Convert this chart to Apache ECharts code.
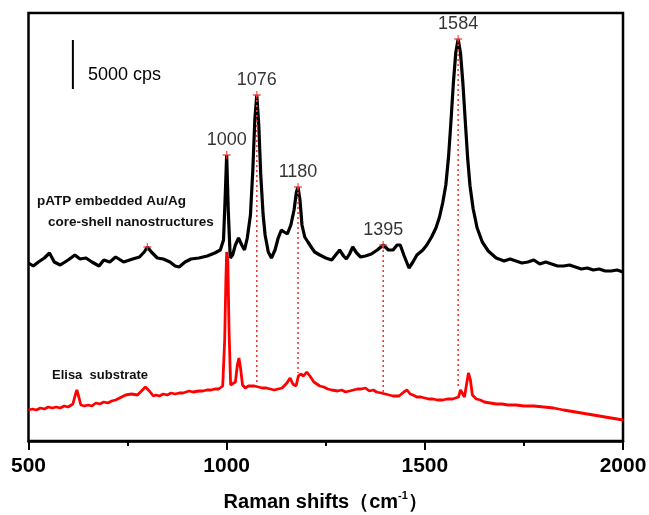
<!DOCTYPE html>
<html>
<head>
<meta charset="utf-8">
<script src="https://cdn.jsdelivr.net/npm/echarts@6/dist/echarts.min.js"></script>
<style>html,body{margin:0;padding:0;background:#fff;}#c{width:649px;height:515px;}</style>
</head>
<body>
<div id="c"></div>
<script>
// Raman shift (cm-1) and offset intensity (a.u.; 49 a.u. = 5000 cps scale bar)
var blackShift = [500,512,525,540,553,565,580,600,617,630,645,660,678,690,705,720,740,763,780,792,800,810,825,840,857,870,880,895,910,930,951,970,984,992,996,1000,1004,1009,1015,1022,1030,1038,1045,1052,1060,1066,1071,1076,1081,1086,1092,1097,1105,1113,1122,1130,1138,1145,1153,1162,1170,1176,1180,1185,1190,1197,1205,1215,1222,1235,1250,1265,1275,1285,1295,1302,1310,1318,1328,1338,1350,1365,1380,1395,1408,1420,1430,1438,1448,1460,1470,1480,1495,1505,1517,1528,1537,1545,1553,1560,1566,1572,1578,1584,1590,1596,1602,1608,1614,1622,1632,1645,1660,1680,1700,1715,1730,1745,1760,1775,1790,1805,1820,1835,1850,1865,1880,1895,1910,1925,1940,1955,1970,1985,2000];
var blackInt   = [178,175,179,183,188,179,176,181,186,182,183,179,175,181,179,184,179,182,184,189,194,189,183,182,179,175,174,179,182,183,185,188,191,201,241,286,231,183,186,196,203,196,191,203,226,271,321,346,316,266,226,206,189,183,191,203,211,209,207,216,231,249,254,241,216,204,199,193,189,186,183,181,186,191,185,182,187,194,188,184,185,187,191,196,191,191,196,196,185,173,179,186,191,196,204,213,224,238,256,285,320,358,388,402,388,358,320,283,255,232,213,199,190,183,180,182,180,178,179,181,177,179,177,175,175,176,174,172,173,171,172,170,170,171,169];

var redShift = [500,510,520,530,540,550,560,570,580,590,600,612,618,622,627,632,641,650,660,670,680,690,700,710,720,730,745,760,775,785,795,805,815,822,830,840,850,860,870,880,890,905,915,920,930,940,950,960,970,980,990,995,998,1000,1003,1006,1010,1015,1022,1027,1031,1035,1040,1047,1055,1060,1070,1080,1090,1100,1110,1120,1130,1140,1152,1160,1167,1175,1181,1187,1194,1202,1210,1220,1235,1245,1255,1265,1280,1290,1300,1310,1320,1330,1340,1350,1360,1370,1378,1390,1400,1410,1420,1435,1447,1455,1463,1470,1480,1490,1500,1510,1520,1532,1545,1557,1570,1585,1590,1595,1600,1605,1610,1615,1620,1630,1640,1650,1665,1680,1695,1710,1730,1750,1775,1800,1825,1850,1865,1880,1895,1910,1925,1940,1955,1970,1985,2000];
var redInt   = [31,32,31,33,32,34,33,34,33,35,34,37,46,51,44,36,35,36,35,38,37,39,38,40,41,43,46,47,46,50,54,50,45,46,45,47,46,48,47,48,48,50,49,49,50,50,51,51,52,52,55,101,161,189,179,111,56,54,59,76,83,73,56,53,55,54,55,54,53,53,52,51,52,53,58,63,57,55,65,67,65,69,65,59,55,54,52,51,50,51,49,50,51,52,52,53,50,51,49,48,47,46,45,45,49,51,47,46,44,44,43,42,42,41,41,42,42,44,51,49,44,56,68,61,46,42,41,39,38,37,37,36,36,35,35,34,33,31,30,29,28,27,26,25,24,23,22,21];

var peakShift  = [1000,1076,1180,1395,1584];
var peakTop    = [286,346,254,196,402];
var peakBottom = [286,59,68,49,53];
var peakLabels = ['1000','1076','1180','1395','1584'];
var extraStarShift = [800];
var extraStarInt   = [194];

var scaleBarShift = 612;
var scaleBarInt   = [401,352];
var scaleBarText  = '5000 cps';

var xTicks = [500,1000,1500,2000];

var FONT = '"Liberation Sans", Arial, sans-serif';

function pairs(xs, ys){ return xs.map(function(x,i){ return [x, ys[i]]; }); }

var series = [];
series.push({
  type:'line', data: pairs(blackShift, blackInt), showSymbol:false, symbol:'none',
  lineStyle:{color:'#000', width:3.2}, z:2, silent:true
});
peakShift.forEach(function(s,i){
  if (peakBottom[i] >= peakTop[i]) return;
  series.push({
    type:'line', data: [[s, peakTop[i]],[s, peakBottom[i]]], symbol:'none',
    lineStyle:{color:'#f23a3a', width:1.6, type:[2,3]}, z:3, silent:true
  });
});
series.push({
  type:'line', data: pairs(redShift, redInt), showSymbol:false, symbol:'none',
  lineStyle:{color:'#ff0000', width:2.8}, z:4, silent:true
});
var starPath = 'path://M-0.8,-5H0.8V-0.8H5V0.8H0.8V5H-0.8V0.8H-5V-0.8H-0.8Z';
series.push({
  type:'scatter', symbol: starPath, symbolSize:8, z:5, silent:true,
  itemStyle:{color:'#ee3333'},
  data: pairs(peakShift, peakTop).map(function(p,i){ return {value:p, name:peakLabels[i]}; }),
  label:{show:true, position:'top', distance:2, formatter:'{b}', fontFamily:FONT, fontSize:18, color:'#000'}
});
series.push({
  type:'scatter', symbol: starPath, symbolSize:8, z:5, silent:true,
  itemStyle:{color:'#ee3333'},
  data: pairs(extraStarShift, extraStarInt)
});
series.push({
  type:'line', data: [[scaleBarShift, scaleBarInt[0]],[scaleBarShift, scaleBarInt[1]]], symbol:'none',
  lineStyle:{color:'#000', width:2}, z:5, silent:true
});

var chart = echarts.init(document.getElementById('c'), null, {renderer:'canvas'});
chart.setOption({
  animation:false,
  backgroundColor:'#fff',
  grid:{left:28.5, right:26, top:13, bottom:74, show:true, borderColor:'#000', borderWidth:2.5,
    containLabel:false, outerBoundsMode:'none'},
  xAxis:{
    type:'value', min:xTicks[0], max:xTicks[xTicks.length-1], interval:xTicks[1]-xTicks[0],
    axisLine:{show:true, lineStyle:{color:'#000', width:2.5}},
    axisTick:{show:true, length:9, lineStyle:{color:'#000', width:2}},
    minorTick:{show:true, splitNumber:2, length:5, lineStyle:{color:'#000', width:2}},
    splitLine:{show:false}, minorSplitLine:{show:false},
    axisLabel:{fontFamily:FONT, fontWeight:'bold', fontSize:21, color:'#000', margin:15,
      formatter:function(v){ return String(v); }},
    name:'{t|Raman shifts（cm}{s|-1}{t|）}',
    nameLocation:'middle', nameGap:49,
    nameTextStyle:{
      rich:{
        t:{fontFamily:FONT, fontWeight:'bold', fontSize:20, color:'#000', lineHeight:24},
        s:{fontFamily:FONT, fontWeight:'bold', fontSize:11, color:'#000', verticalAlign:'top', lineHeight:24, padding:[0,0,12,0]}
      }
    }
  },
  yAxis:{type:'value', min:0, max:428, show:false},
  graphic:[
    {type:'text', left:88, top:66, style:{text:scaleBarText, font:'18px '+FONT, fill:'#000'}},
    {type:'text', left:37, top:194, style:{text:'pATP embedded Au/Ag', font:'bold 13.5px '+FONT, fill:'#111'}},
    {type:'text', left:48, top:215, style:{text:'core-shell nanostructures', font:'bold 13.5px '+FONT, fill:'#111'}},
    {type:'text', left:52, top:369, style:{text:'Elisa  substrate', font:'bold 13px '+FONT, fill:'#111'}}
  ],
  series: series
});
</script>
</body>
</html>
